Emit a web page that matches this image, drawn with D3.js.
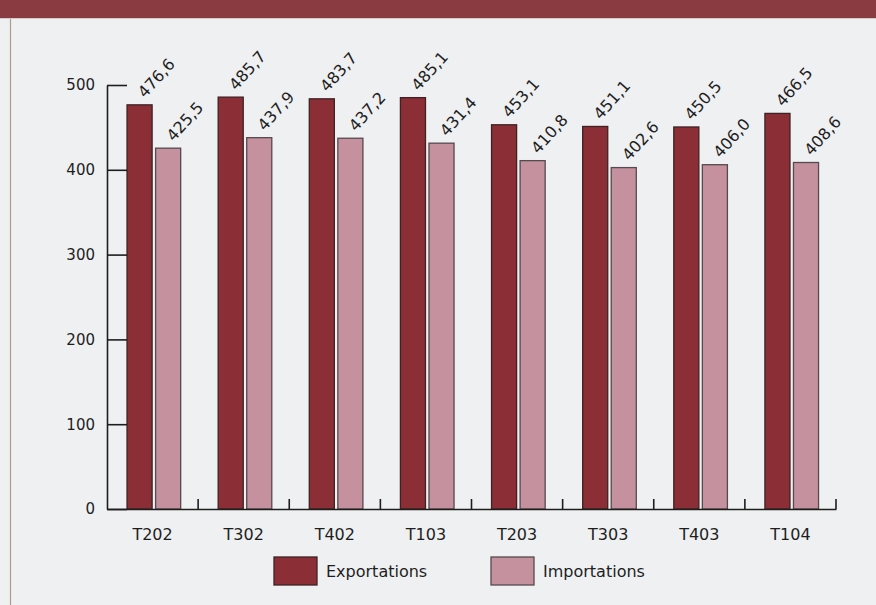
<!DOCTYPE html>
<html>
<head>
<meta charset="utf-8">
<script src="https://cdn.jsdelivr.net/npm/d3@7"></script>
<style>
  body { margin: 0; background: #eef0f1; }
  svg { display: block; font-family: "DejaVu Sans", Verdana, sans-serif; }
</style>
</head>
<body>
<div id="container"></div>
<script>
var categories = ["T202", "T302", "T402", "T103", "T203", "T303", "T403", "T104"];
var exportations = [476.6, 485.7, 483.7, 485.1, 453.1, 451.1, 450.5, 466.5];
var importations = [425.5, 437.9, 437.2, 431.4, 410.8, 402.6, 406.0, 408.6];
var seriesNames = ["Exportations", "Importations"];
var yTicks = [0, 100, 200, 300, 400, 500];

var width = 876, height = 605;
var colors = { Exportations: "#8c2e36", Importations: "#c6919e" };
var strokes = { Exportations: "#3e2224", Importations: "#554a4e" };

var svg = d3.select("#container").append("svg")
  .attr("width", width)
  .attr("height", height);

// page background + header band
svg.append("rect").attr("width", width).attr("height", height).attr("fill", "#eef0f1");
svg.append("rect").attr("width", width).attr("height", 18).attr("fill", "#8a3b41");
svg.append("line")
  .attr("x1", 0).attr("x2", width).attr("y1", 18.5).attr("y2", 18.5)
  .attr("stroke", "#d8c9c9").attr("stroke-width", 1);
svg.append("line")
  .attr("x1", 10.5).attr("x2", 10.5).attr("y1", 19).attr("y2", height)
  .attr("stroke", "#b49a8a").attr("stroke-width", 1.2);

var x0 = 107, x1 = 836;
var y = d3.scaleLinear().domain([0, 500]).range([509, 85]);
var x = d3.scaleBand().domain(categories).range([x0, x1]).paddingInner(0).paddingOuter(0);

var data = categories.map(function(c, i) {
  return { cat: c, values: [
    { name: "Exportations", v: exportations[i] },
    { name: "Importations", v: importations[i] }
  ]};
});

var barW = x.bandwidth() * 0.275;
var offsets = { Exportations: x.bandwidth() * 0.22, Importations: x.bandwidth() * 0.22 + barW + 3.5 };

var groups = svg.selectAll(".grp")
  .data(data)
  .enter().append("g")
  .attr("class", "grp")
  .attr("transform", function(d) { return "translate(" + x(d.cat) + ",0)"; });

groups.selectAll("rect")
  .data(function(d) { return d.values; })
  .enter().append("rect")
  .attr("x", function(d) { return offsets[d.name]; })
  .attr("y", function(d) { return y(d.v); })
  .attr("width", barW)
  .attr("height", function(d) { return y(0) - y(d.v); })
  .attr("fill", function(d) { return colors[d.name]; })
  .attr("stroke", function(d) { return strokes[d.name]; })
  .attr("stroke-width", 1.3);

// value labels, rotated
groups.selectAll("text.val")
  .data(function(d) { return d.values; })
  .enter().append("text")
  .attr("class", "val")
  .attr("transform", function(d) {
    var cx = offsets[d.name] + barW * 0.72;
    return "translate(" + cx + "," + (y(d.v) - 6) + ") rotate(-48)";
  })
  .attr("font-size", 16)
  .attr("fill", "#1e1e1e")
  .text(function(d) { return d3.format(".1f")(d.v).replace(".", ","); });

// y axis
var yAxis = d3.axisLeft(y).tickValues(yTicks).tickSizeInner(-20).tickSizeOuter(0).tickPadding(12)
  .tickFormat(d3.format("d"));
var gy = svg.append("g").attr("transform", "translate(" + x0 + ",0)").call(yAxis);
gy.select(".domain").attr("stroke", "#1e1e1e").attr("stroke-width", 1.6);
gy.selectAll(".tick line").attr("stroke", "#1e1e1e").attr("stroke-width", 1.6);
gy.selectAll(".tick text").attr("font-size", 15).attr("fill", "#1e1e1e")
  .attr("font-family", "DejaVu Sans, Verdana, sans-serif");

// x axis with ticks between categories
var xAxis = d3.axisBottom(x).tickSize(0).tickPadding(20);
var gx = svg.append("g").attr("transform", "translate(0," + y(0) + ")").call(xAxis);
gx.select(".domain").attr("stroke", "#1e1e1e").attr("stroke-width", 1.6);
gx.selectAll(".tick text").attr("font-size", 16).attr("fill", "#1e1e1e")
  .attr("font-family", "DejaVu Sans, Verdana, sans-serif");
gx.selectAll(".sep")
  .data(categories.slice(1).concat(["end"]))
  .enter().append("line")
  .attr("class", "sep")
  .attr("x1", function(d, i) { return x0 + (i + 1) * x.bandwidth(); })
  .attr("x2", function(d, i) { return x0 + (i + 1) * x.bandwidth(); })
  .attr("y1", 0).attr("y2", -10)
  .attr("stroke", "#1e1e1e").attr("stroke-width", 1.6);

// legend
var legend = svg.append("g");
var legX = [274, 491];
seriesNames.forEach(function(name, i) {
  legend.append("rect")
    .attr("x", legX[i]).attr("y", 557).attr("width", 43).attr("height", 28)
    .attr("fill", colors[name]).attr("stroke", strokes[name]).attr("stroke-width", 1.3);
  legend.append("text")
    .attr("x", legX[i] + 52).attr("y", 577)
    .attr("font-size", 16).attr("fill", "#1e1e1e")
    .text(name);
});
</script>
</body>
</html>
